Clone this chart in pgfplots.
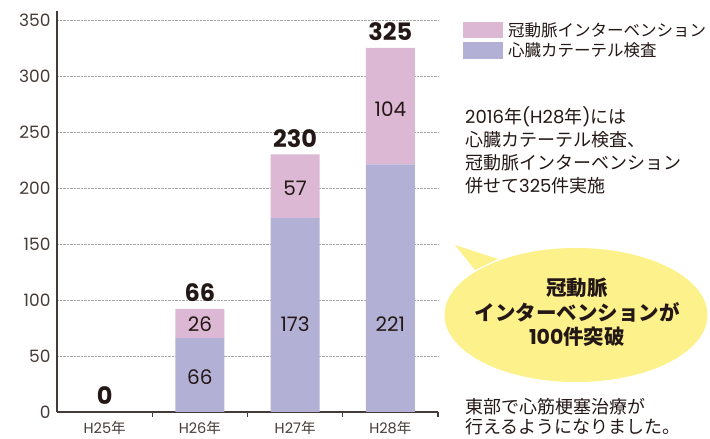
\documentclass[border=0pt]{standalone}
\usepackage{pgfplots}
\pgfplotsset{compat=1.18}
\usepackage{fontspec}
\setmainfont{Noto Sans CJK JP}
\newfontfamily\lat{Poppins}
\definecolor{pinkc}{HTML}{DDB8D5}
\definecolor{lavc}{HTML}{B3B0D6}
\definecolor{txt}{HTML}{231815}
\definecolor{bub}{HTML}{FCF18A}
\begin{document}
\begin{tikzpicture}[x=1pt,y=1pt]
\useasboundingbox (0,0) rectangle (710,439);
% speech bubble
\fill[bub] (455,194) -- (475,169) -- (498,180) -- cycle;
\fill[bub] (576,124) ellipse [x radius=131.5, y radius=67];
\begin{axis}[
  at={(57pt,27pt)}, anchor=south west,
  scale only axis, width=381pt, height=401pt,
  xmin=-0.5, xmax=3.5, ymin=0, ymax=358,
  axis x line*=bottom, axis y line*=left,
  axis line style={-, draw=txt!85, line width=1.2pt},
  ybar stacked, bar width=49pt,
  ytick={0,50,...,350},
  ymajorgrids,
  grid style={densely dotted, draw=gray!70, line width=0.6pt},
  xtick={0,1,2,3},
  xticklabels={{\lat H25}年,{\lat H26}年,{\lat H27}年,{\lat H28}年},
  minor xtick={0.5,1.5,2.5,3.5},
  major tick length=0pt, minor tick length=5pt,
  tick align=outside,
  minor tick style={draw=txt!85, line width=1.2pt},
  /pgf/number format/assume math mode=true,
  yticklabel style={font=\lat\fontsize{17}{17}\selectfont, text=txt!85, xshift=-3pt},
  xticklabel style={font=\fontsize{14.5}{14.5}\selectfont, text=txt!85, yshift=-6pt},
  clip=false,
]
\addplot+[fill=lavc, draw=none] coordinates {(0,0) (1,66) (2,173) (3,221)};
\addplot+[fill=pinkc, draw=none] coordinates {(0,0) (1,26) (2,57) (3,104)};
\coordinate (t0) at (axis cs:0,0);
\coordinate (t1) at (axis cs:1,92);
\coordinate (t2) at (axis cs:2,230);
\coordinate (t3) at (axis cs:3,325);
\coordinate (a1) at (axis cs:1,31);
\coordinate (b1) at (axis cs:1,78);
\coordinate (a2) at (axis cs:2,78);
\coordinate (b2) at (axis cs:2,200);
\coordinate (a3) at (axis cs:3,78);
\coordinate (b3) at (axis cs:3,270);
\end{axis}
% totals
\begin{scope}[every node/.style={font=\lat\bfseries\fontsize{24}{24}\selectfont, text=txt, yshift=16pt}]
\node at (t0) {0};
\node at (t1) {66};
\node at (t2) {230};
\node at (t3) {325};
\end{scope}
% segment values
\begin{scope}[every node/.style={font=\lat\fontsize{20}{20}\selectfont, text=txt}]
\node at (a1) {66};
\node at (b1) {26};
\node at (a2) {173};
\node at (b2) {57};
\node at (a3) {221};
\node at (b3) {104};
\end{scope}
% legend
\fill[pinkc] (463,401) rectangle (503,417);
\fill[lavc] (463,380) rectangle (503,397);
\node[anchor=west, inner sep=0, font=\fontsize{16.5}{16.5}\selectfont, text=txt] at (508,409) {冠動脈インターベンション};
\node[anchor=west, inner sep=0, font=\fontsize{16.5}{16.5}\selectfont, text=txt] at (508,389) {心臓カテーテル検査};
% annotation
\begin{scope}[every node/.style={anchor=west, inner sep=0, font=\fontsize{18}{18}\selectfont, text=txt}]
\node at (465,322) {{\lat 2016}年{\lat (H28}年{\lat )}には};
\node at (465,299) {心臓カテーテル検査、};
\node at (465,276) {冠動脈インターベンション};
\node at (465,253) {併せて{\lat 325}件実施};
\node at (465,32) {東部で心筋梗塞治療が};
\node at (465,12) {行えるようになりました。};
\end{scope}
\begin{scope}[every node/.style={inner sep=0, font=\bfseries\fontsize{20.5}{20.5}\selectfont, text=txt}]
\node at (577,151) {冠動脈};
\node at (577,127) {インターベンションが};
\node at (577,102) {{\lat 100}件突破};
\end{scope}
\end{tikzpicture}
\end{document}
